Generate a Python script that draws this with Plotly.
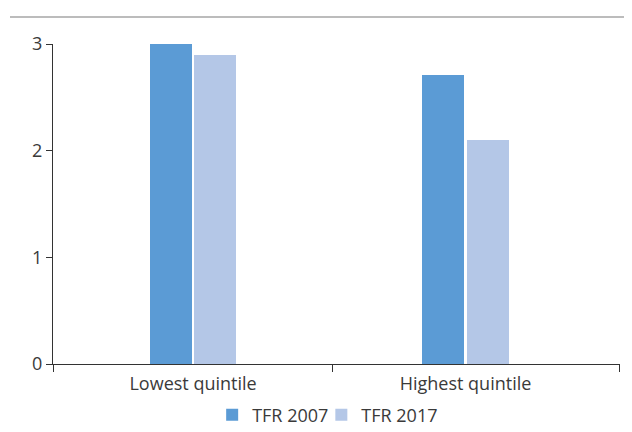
import plotly.graph_objects as go

categories = ["Lowest quintile", "Highest quintile"]
tfr_2007 = [3.0, 2.71]
tfr_2017 = [2.9, 2.1]
series_names = ["TFR 2007", "TFR 2017"]
y_ticks = [0, 1, 2, 3]

colors = ["#5B9BD5", "#B4C7E7"]
pos = list(range(len(categories)))

fig = go.Figure()
fig.add_trace(go.Bar(x=pos, y=tfr_2007, name=series_names[0], width=0.154, offset=-0.158,
                     marker=dict(color=colors[0], line=dict(width=0))))
fig.add_trace(go.Bar(x=pos, y=tfr_2017, name=series_names[1], width=0.154, offset=0.004,
                     marker=dict(color=colors[1], line=dict(width=0))))

axis_col = "#333333"
font = dict(family="Open Sans, sans-serif", size=18, color="#3a3a3a")

# page body adds an 8px offset; margins compensate
L, T = 45, 36
fig.update_layout(
    template="none",
    width=632, height=432,
    margin=dict(l=L, r=20, t=T, b=76, autoexpand=False),
    paper_bgcolor="white", plot_bgcolor="white",
    font=font,
    showlegend=True,
    legend=dict(orientation="h", x=0.495, xanchor="center",
                yref="container", y=0.058, yanchor="middle",
                font=font, itemwidth=30, indentation=-12, tracegroupgap=0,
                traceorder="normal"),
    xaxis=dict(
        range=[-0.514, 1.567],
        tickmode="array", tickvals=pos, ticktext=categories,
        ticks="", showgrid=False, zeroline=False, ticklabelstandoff=3,
        showline=True, linecolor=axis_col, linewidth=1.3,
        minor=dict(tickmode="array", tickvals=[-0.514, 0.510, 1.565], ticks="outside",
                   ticklen=7, tickcolor=axis_col, tickwidth=1.3, showgrid=False),
        tickfont=font, fixedrange=True,
    ),
    yaxis=dict(
        range=[0, 3], tickmode="array", tickvals=y_ticks,
        ticks="outside", ticklen=6, tickcolor=axis_col, tickwidth=1.3,
        showgrid=False, zeroline=False,
        showline=True, linecolor=axis_col, linewidth=1.3,
        tickfont=font, fixedrange=True,
    ),
    bargap=0,
)

# header rule across the top
fig.add_shape(type="line", xref="paper", yref="paper",
              x0=(10 - 53) / 567, x1=(640 - 53) / 567,
              y0=1 + (44 - 17) / 320, y1=1 + (44 - 17) / 320,
              line=dict(color="#A6A6A6", width=1.5))

fig.write_html("out.html")
